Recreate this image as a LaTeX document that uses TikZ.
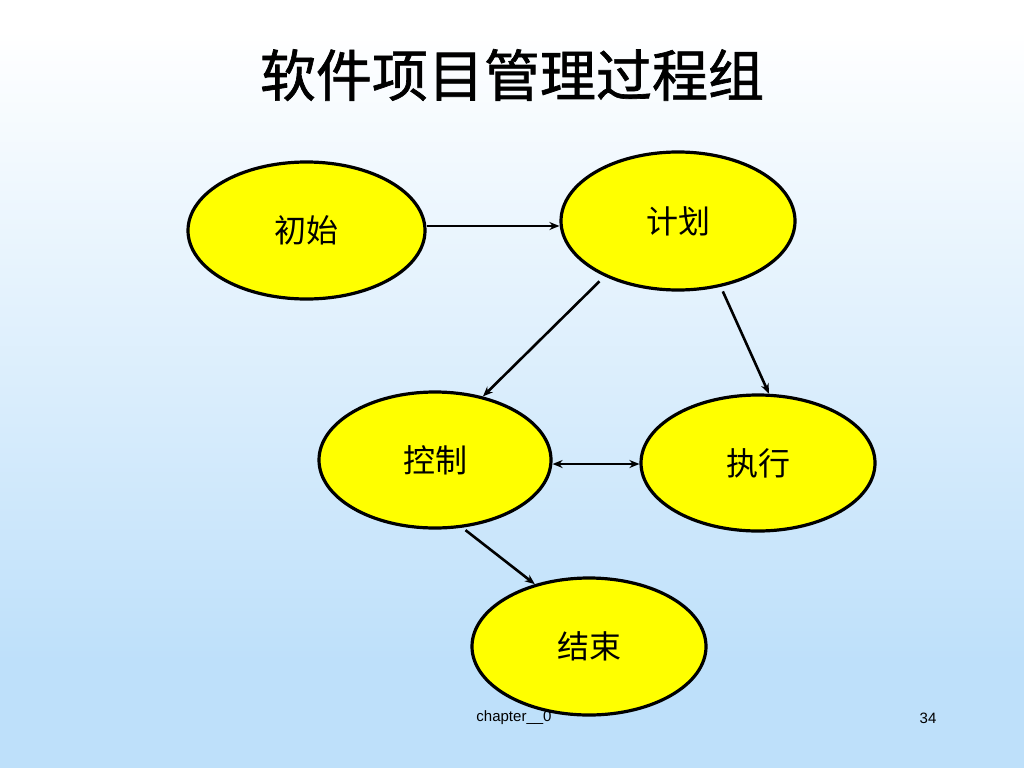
\documentclass[tikz,border=0pt]{standalone}
\usepackage{fontspec}
\setmainfont{Liberation Sans}
\newfontfamily\cjk{Noto Sans CJK SC}
\newfontfamily\cjktitle[FakeBold=1.2]{Noto Sans CJK SC}
\usetikzlibrary{shapes.geometric,arrows.meta}
\definecolor{bgblue}{RGB}{190,224,250}
\definecolor{nodeyellow}{RGB}{255,255,0}
\tikzset{
  phase/.style={ellipse, draw=black, line width=3.2pt, fill=nodeyellow,
    minimum width=234pt, minimum height=137pt, inner sep=0pt,
    font=\cjk\fontsize{32}{36}\selectfont, text=black},
  flow/.style={line width=2.6pt, -{Stealth[length=10pt,width=8pt]}},
  flowboth/.style={line width=2.6pt, {Stealth[length=10pt,width=8pt]}-{Stealth[length=10pt,width=8pt]}},
  footer/.style={font=\fontsize{15}{17}\selectfont, text=black}
}
\begin{document}
\begin{tikzpicture}[x=1pt,y=-1pt]
\useasboundingbox (0,0) rectangle (1024,768);
\fill[white] (0,0) rectangle (1024,31);
\shade[top color=white, bottom color=bgblue] (0,30) rectangle (1024,661);
\fill[bgblue] (0,660) rectangle (1024,768);

\node[font=\cjktitle\fontsize{56}{60}\selectfont] (title) at (512,75) {软件项目管理过程组};

\node[phase, minimum width=237pt] (chushi) at (306.5,230.5) {初始};
\node[phase, minimum height=138pt] (jihua) at (678,221) {计划};
\node[phase, minimum width=232pt, minimum height=136pt] (kongzhi) at (435,460) {控制};
\node[phase, minimum height=136pt] (zhixing) at (758,463) {执行};
\node[phase] (jieshu) at (589,646.5) {结束};

\draw[flow] ([yshift=4.5pt]chushi.east) -- ([yshift=-5pt]jihua.west);
\draw[flow, shorten <=7pt] (jihua.217) -- (kongzhi.53);
\draw[flow, shorten <=5pt] (jihua.303) -- (zhixing.81);
\draw[flowboth] ([yshift=-4pt]kongzhi.east) -- ([yshift=-1pt]zhixing.west);
\draw[flow, shorten <=4pt] (kongzhi.292) -- (jieshu.131);

\node[footer] (chapter) at (514,718) {chapter\_\_0};
\node[footer] (pagenum) at (928,718) {34};
\end{tikzpicture}
\end{document}
